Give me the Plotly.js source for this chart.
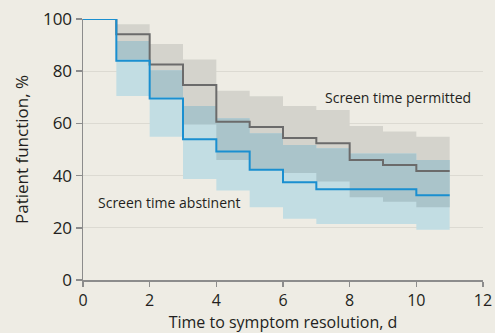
<!DOCTYPE html>
<html>
<head>
<meta charset="utf-8">
<script src="https://cdn.plot.ly/plotly-3.0.1.min.js"></script>
<style>html,body{margin:0;padding:0;background:#EEECE4;}#chart{width:495px;height:333px;}</style>
</head>
<body>
<div id="chart"></div>
<script>
// Step start times (days); last value holds until endTime
const days = [0, 1, 2, 3, 4, 5, 6, 7, 8, 9, 10];
const endTime = 11;

const permitted      = [100, 94.2, 82.6, 74.7, 60.6, 58.6, 54.4, 52.4, 46.0, 44.1, 41.8];
const permittedUpper = [100, 98.0, 90.4, 84.5, 72.5, 70.4, 66.7, 65.1, 59.0, 56.9, 54.9];
const permittedLower = [100, 84.5, 70.0, 59.6, 46.0, 42.5, 41.0, 37.7, 31.7, 30.0, 27.9];

const abstinent      = [100, 84.0, 69.5, 53.9, 49.2, 42.2, 37.5, 34.8, 34.8, 34.8, 32.5];
const abstinentUpper = [100, 91.6, 80.4, 66.7, 62.0, 56.2, 51.7, 50.5, 48.5, 48.5, 46.0];
const abstinentLower = [100, 70.5, 54.9, 38.7, 34.3, 27.9, 23.5, 21.5, 21.5, 21.5, 19.3];

const xTicks = [0, 2, 4, 6, 8, 10, 12];
const yTicks = [0, 20, 40, 60, 80, 100];

const ext = a => a.concat([a[a.length - 1]]);
const X = days.concat([endTime]);

const overlapLower = permittedLower.map((v, i) => Math.max(v, abstinentLower[i]));
const overlapUpper = permittedUpper.map((v, i) => Math.min(v, abstinentUpper[i]));
const ovLo = overlapLower.map((v, i) => Math.min(v, overlapUpper[i]));
const ovHi = overlapUpper.map((v, i) => Math.max(v, ovLo[i]));

function band(lo, hi, color) {
  return [
    {x: X, y: ext(lo), type: 'scatter', mode: 'lines', line: {width: 0, shape: 'hv'}, hoverinfo: 'skip', showlegend: false},
    {x: X, y: ext(hi), type: 'scatter', mode: 'lines', line: {width: 0, shape: 'hv'}, fill: 'tonexty', fillcolor: color, hoverinfo: 'skip', showlegend: false}
  ];
}

const traces = [].concat(
  band(permittedLower, permittedUpper, '#D4D3CC'),
  band(abstinentLower, abstinentUpper, '#C2DDE3'),
  band(ovLo, ovHi, '#AAC4CA'),
  [
    {x: X, y: ext(permitted), type: 'scatter', mode: 'lines', line: {color: '#6B6B6B', width: 2, shape: 'hv'}, showlegend: false},
    {x: X, y: ext(abstinent), type: 'scatter', mode: 'lines', line: {color: '#1A8FD0', width: 2, shape: 'hv'}, showlegend: false}
  ]
);

const font = 'Open Sans, sans-serif';
const layout = {
  width: 495, height: 333,
  paper_bgcolor: '#EEECE4', plot_bgcolor: '#EEECE4',
  margin: {l: 83, r: 12, t: 19, b: 53},
  showlegend: false,
  font: {family: font, color: '#231F20', size: 16},
  xaxis: {
    range: [0, 12], tickvals: xTicks, ticktext: xTicks.map(String),
    showgrid: false, zeroline: false, showline: true, linecolor: '#8C8C8C', linewidth: 1.5,
    ticks: 'outside', ticklen: 5, tickcolor: '#8C8C8C', tickwidth: 1.5,
    tickfont: {size: 16, family: font, color: '#231F20'},
    title: {text: 'Time to symptom resolution, d', font: {size: 16, family: font, color: '#231F20'}, standoff: 6}
  },
  yaxis: {
    range: [0, 100], tickvals: yTicks, ticktext: yTicks.map(String),
    showgrid: true, gridcolor: '#DCDAD2', gridwidth: 1, zeroline: false,
    showline: true, linecolor: '#8C8C8C', linewidth: 1.5,
    ticks: 'outside', ticklen: 6, tickcolor: '#8C8C8C', tickwidth: 1.5,
    tickfont: {size: 17, family: font, color: '#231F20'},
    title: {text: 'Patient function, %', font: {size: 17, family: font, color: '#231F20'}, standoff: 10}
  },
  annotations: [
    {x: 9.44, y: 70, xref: 'x', yref: 'y', text: 'Screen time permitted', showarrow: false, font: {size: 14, family: font, color: '#231F20'}},
    {x: 2.6, y: 29.7, xref: 'x', yref: 'y', text: 'Screen time abstinent', showarrow: false, font: {size: 14, family: font, color: '#231F20'}}
  ]
};

Plotly.newPlot('chart', traces, layout, {displayModeBar: false, staticPlot: true});
</script>
</body>
</html>
